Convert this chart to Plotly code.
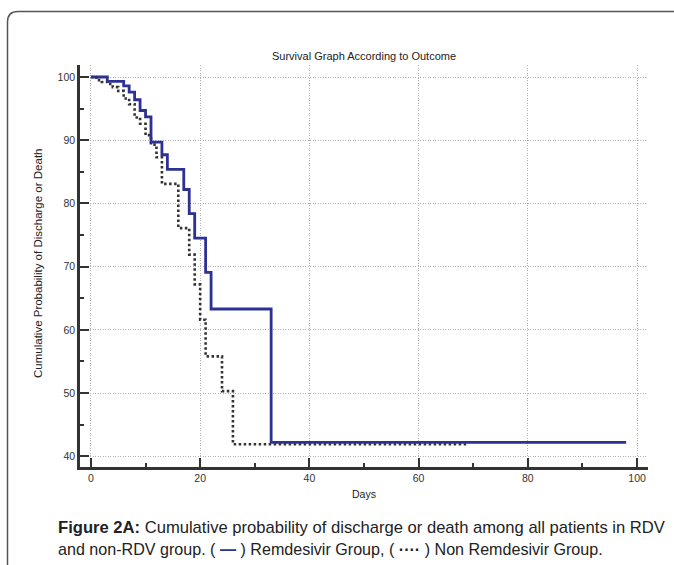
import plotly.graph_objects as go

# Remdesivir group (step curve: day -> cumulative probability %)
rdv_days = [0, 3, 6, 7, 8, 9, 10, 11, 13, 14, 17, 18, 19, 21, 22, 33, 98]
rdv_vals = [100, 99.3, 98.6, 97.6, 96.4, 94.7, 93.7, 89.7, 87.7, 85.4, 82.2, 78.4, 74.5, 69.1, 63.3, 42.2, 42.2]

# Non Remdesivir group
non_days = [0, 1, 2, 3, 4, 5, 6, 7, 8, 9, 10, 11, 12, 13, 16, 18, 19, 20, 21, 24, 26, 69]
non_vals = [100, 99.5, 99.2, 98.9, 98.4, 97.8, 96.6, 95.7, 93.6, 92.6, 90.8, 89.3, 87.3, 83.1, 76.1, 71.9, 67.2, 61.6, 55.8, 50.3, 41.9, 41.9]

x_ticks = [0, 20, 40, 60, 80, 100]
y_ticks = [40, 50, 60, 70, 80, 90, 100]

BLUE = "#2d3192"
FONT = "Liberation Sans, Arial, sans-serif"

fig = go.Figure()
fig.add_trace(go.Scatter(x=non_days, y=non_vals, mode="lines", line_shape="hv",
                         line=dict(color="#333333", width=2.6, dash="2.5px,2.5px"),
                         name="Non Remdesivir Group", showlegend=False))
fig.add_trace(go.Scatter(x=rdv_days, y=rdv_vals, mode="lines", line_shape="hv",
                         line=dict(color=BLUE, width=2.8),
                         name="Remdesivir Group", showlegend=False))

W, H = 674, 565
L, R, T, B = 80, 26, 65, 98
pw, ph = W - L - R, H - T - B

def px(x):
    return (x - L) / pw

def py(y):
    return (H - B - y) / ph

axis_common = dict(showline=True, linewidth=2.5, linecolor="#333333",
                   ticks="inside", ticklen=9, tickwidth=1.5, tickcolor="#333333",
                   showgrid=True, gridcolor="#b0b0b0", gridwidth=1, griddash="1px,1.5px",
                   zeroline=False, tickfont=dict(family=FONT, size=10.5, color="#333333"))

fig.update_xaxes(range=[-2, 102], tickvals=x_ticks,
                 minor=dict(dtick=10, tick0=0, ticks="inside", ticklen=4, tickwidth=1.5,
                            tickcolor="#333333", showgrid=False),
                 **axis_common)
fig.update_yaxes(range=[38.3, 101.9], tickvals=y_ticks,
                 minor=dict(dtick=5, tick0=0, ticks="inside", ticklen=4, tickwidth=1.5,
                            tickcolor="#333333", showgrid=False),
                 **axis_common)

# frame (rounded corner, clipped at right and bottom)
fig.add_shape(type="path", xref="paper", yref="paper",
              path=f"M {px(7.5)} {py(580)} L {px(7.5)} {py(22)} Q {px(7.5)} {py(11.5)} {px(18)} {py(11.5)} L {px(690)} {py(11.5)}",
              line=dict(color="#555555", width=1.5))

fig.add_annotation(text="Survival Graph According to Outcome", xref="paper", yref="paper",
                   x=px(364), y=py(56), showarrow=False, xanchor="center", yanchor="middle",
                   font=dict(family=FONT, size=11, color="#222222"))
fig.add_annotation(text="Cumulative Probability of Discharge or Death", xref="paper", yref="paper",
                   x=px(38), y=py(264), showarrow=False, textangle=-90,
                   xanchor="center", yanchor="middle",
                   font=dict(family=FONT, size=11.5, color="#222222"))
fig.add_annotation(text="Days", xref="paper", yref="paper",
                   x=px(364), y=py(494), showarrow=False, xanchor="center", yanchor="middle",
                   font=dict(family=FONT, size=10.5, color="#222222"))
fig.add_annotation(text="<b>Figure 2A:</b> Cumulative probability of discharge or death among all patients in RDV",
                   xref="paper", yref="paper", x=px(56), y=py(527), showarrow=False,
                   xanchor="left", yanchor="middle",
                   font=dict(family=FONT, size=16.6, color="#222222"))
fig.add_annotation(text=f"and non-RDV group. ( <span style='color:{BLUE}'><b>—</b></span> ) Remdesivir Group, ( <b>····</b> ) Non Remdesivir Group.",
                   xref="paper", yref="paper", x=px(56), y=py(549), showarrow=False,
                   xanchor="left", yanchor="middle",
                   font=dict(family=FONT, size=16.1, color="#222222"))

fig.update_layout(width=W, height=H, margin=dict(l=L, r=R, t=T, b=B),
                  plot_bgcolor="white", paper_bgcolor="white", showlegend=False)

fig.write_html("out.html", config={"displayModeBar": False},
               post_script="document.body.style.margin='0px';")
